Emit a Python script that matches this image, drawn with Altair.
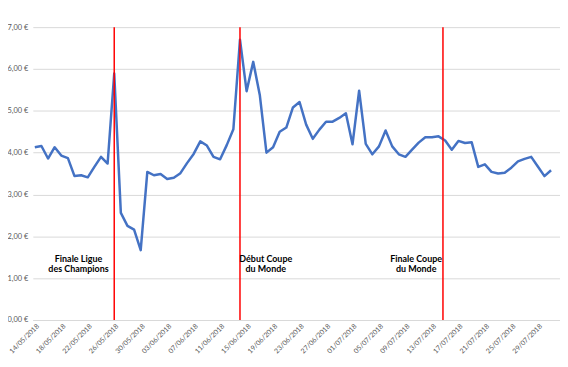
import altair as alt
import pandas as pd

# Daily dates (category axis) and average price values
dates = pd.date_range("2018-05-14", "2018-07-31", freq="D").strftime("%Y-%m-%dT00:00:00").tolist()
prices = [
    4.13, 4.16, 3.86, 4.13, 3.93, 3.87, 3.44, 3.46, 3.41, 3.66,
    3.90, 3.74, 5.89, 2.56, 2.25, 2.16, 1.67, 3.54, 3.46, 3.49,
    3.37, 3.40, 3.51, 3.75, 3.97, 4.27, 4.17, 3.90, 3.84, 4.18,
    4.56, 6.70, 5.47, 6.17, 5.37, 4.00, 4.13, 4.50, 4.60, 5.08,
    5.21, 4.67, 4.33, 4.55, 4.74, 4.74, 4.83, 4.94, 4.20, 5.48,
    4.21, 3.96, 4.15, 4.53, 4.15, 3.96, 3.90, 4.07, 4.24, 4.37,
    4.37, 4.39, 4.29, 4.07, 4.28, 4.23, 4.25, 3.66, 3.72, 3.54,
    3.50, 3.52, 3.64, 3.79, 3.85, 3.90, 3.67, 3.44, 3.58,
]

# Events (vertical red lines) and their labels
event_dates = ["2018-05-26T00:00:00", "2018-06-14T00:00:00", "2018-07-14T16:00:00"]
event_labels = [["Finale Ligue", "des Champions"], ["Début Coupe", "du Monde"], ["Finale Coupe", "du Monde"]]
label_level = [1.45, 1.45, 1.45]

tick_dates = [
    "2018-05-14", "2018-05-18", "2018-05-22", "2018-05-26", "2018-05-30",
    "2018-06-03", "2018-06-07", "2018-06-11", "2018-06-15", "2018-06-19",
    "2018-06-23", "2018-06-27", "2018-07-01", "2018-07-05", "2018-07-09",
    "2018-07-13", "2018-07-17", "2018-07-21", "2018-07-25", "2018-07-29",
]

df = pd.DataFrame({"date": dates, "price": prices})
ev = pd.DataFrame({"date": event_dates, "label": event_labels, "level": label_level})

FONT = "Lato"

def dt(s, h=0, m=0):
    y, mo, d = [int(v) for v in s.split("-")]
    return alt.DateTime(year=y, month=mo, date=d, hours=h, minutes=m)

x_scale = alt.Scale(domain=[dt("2018-05-13", 16, 48), dt("2018-08-01", 8, 24)])
y_scale = alt.Scale(domain=[0, 7], nice=False)

x_axis = alt.Axis(
    title=None,
    values=[dt(s) for s in tick_dates],
    format="%d/%m/%Y",
    labelAngle=-45,
    labelAlign="right",
    labelBaseline="top",
    labelFontSize=7,
    labelColor="#595959",
    labelFont=FONT,
    labelPadding=2,
    ticks=False,
    grid=False,
    domain=True,
    domainColor="#D9D9D9",
    domainWidth=1,
    labelOverlap=False,
    labelBound=False,
    labelFlush=False,
)

y_axis = alt.Axis(
    title=None,
    values=[0, 1, 2, 3, 4, 5, 6, 7],
    labelExpr="replace(format(datum.value, '.2f'), '.', ',') + ' €'",
    labelFontSize=7.5,
    labelColor="#595959",
    labelFont=FONT,
    labelPadding=5,
    ticks=False,
    domain=False,
    grid=True,
    gridColor="#D9D9D9",
    gridWidth=1,
)

X = alt.X("date:T", scale=x_scale, axis=x_axis)

line = alt.Chart(df).mark_line(color="#4472C4", strokeWidth=2.5, strokeJoin="round").encode(
    x=X,
    y=alt.Y("price:Q", scale=y_scale, axis=y_axis),
)

rules = alt.Chart(ev).mark_rule(color="#FF0000", strokeWidth=1.5).encode(x=X)

def label_layer(i, dx):
    return alt.Chart(ev.iloc[[i]]).mark_text(
        font=FONT, fontSize=9, fontWeight="bold", color="#000000",
        align="center", baseline="middle", lineHeight=10, dx=dx,
    ).encode(
        x=X,
        y=alt.Y("level:Q", scale=y_scale, axis=y_axis),
        text="label",
    )

chart = alt.layer(
    line, rules, label_layer(0, -36), label_layer(1, 26), label_layer(2, -27)
).properties(
    width=531,
    height=295,
    autosize=alt.AutoSizeParams(type="none"),
    padding={"left": 25, "top": 18, "right": 0, "bottom": 37},
    background="white",
).configure_view(stroke=None).configure_axisX(labelOverlap=False)

chart.save("out.html", embed_options={"renderer": "svg", "actions": False})
